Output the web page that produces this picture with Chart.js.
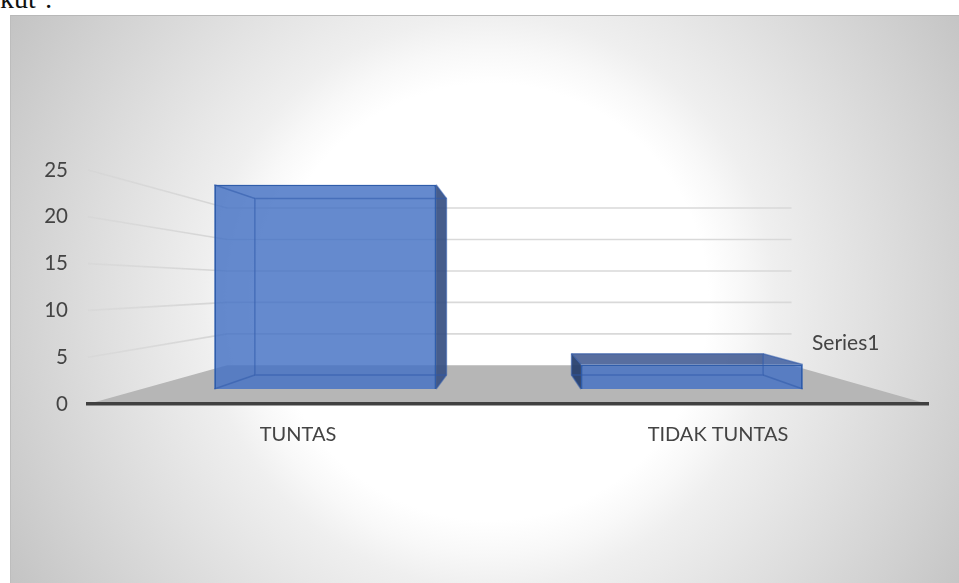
<!DOCTYPE html>
<html>
<head>
<meta charset="utf-8">
<title>Tuntas</title>
<script src="https://cdn.jsdelivr.net/npm/chart.js@4"></script>
<style>
  html, body { margin: 0; padding: 0; background: #fff; overflow: hidden; }
  #wrap { position: relative; width: 959px; height: 583px; overflow: hidden; }
  #doc { position: absolute; left: 0; top: -17px; font: 28px "Liberation Serif", serif; word-spacing: 2px; color: #111; }
  #panel {
    position: absolute; left: 10px; top: 15px; right: 0; bottom: 0;
    border-left: 1px solid #bdbdbd; border-top: 1px solid #b8b8b8;
    background: radial-gradient(circle 560px at 479px 286px, #fff 0%, #fff 39%, #f8f8f8 45%, #efefef 51%, #e0e0e0 68%, #d0d0d0 86%, #c3c3c3 100%);
  }
  canvas { position: absolute; left: 0; top: 0; }
</style>
</head>
<body>
<div id="wrap">
  <div id="doc">kut :</div>
  <div id="panel"></div>
  <canvas id="chart" width="959" height="583"></canvas>
</div>
<script>
// data
const categories = ["TUNTAS", "TIDAK TUNTAS"];
const seriesName = "Series1";
const values = [25, 3];
const yTicks = [0, 5, 10, 15, 20, 25];

// perspective of the fake 3D box, everything shrinks towards this point
const VP = { x: 512, y: 286 };
const FRONT = 0.873;
const BACK = 0.754;
const WALL = 0.672;

const FONT = "Lato, 'Open Sans', sans-serif";
const TEXT = "#444444";
const EDGE = "rgba(47,90,170,0.55)";

function proj(p, s) {
  return { x: VP.x + (p.x - VP.x) * s, y: VP.y + (p.y - VP.y) * s };
}

function poly(ctx, pts, fill, stroke, lw) {
  ctx.beginPath();
  pts.forEach((p, i) => i ? ctx.lineTo(p.x, p.y) : ctx.moveTo(p.x, p.y));
  ctx.closePath();
  if (fill) { ctx.fillStyle = fill; ctx.fill(); }
  if (stroke) { ctx.strokeStyle = stroke; ctx.lineWidth = lw; ctx.lineJoin = "round"; ctx.stroke(); }
}

function boxPoints(bar) {
  const x0 = bar.x - bar.width / 2, x1 = bar.x + bar.width / 2;
  const c = [
    { x: x0, y: bar.y }, { x: x1, y: bar.y },
    { x: x1, y: bar.base }, { x: x0, y: bar.base }
  ];
  return { f: c.map(p => proj(p, FRONT)), b: c.map(p => proj(p, BACK)) };
}

const box3d = {
  id: "box3d",
  beforeDatasetsDraw(chart) {
    const { ctx, chartArea: a, scales: { y } } = chart;
    ctx.save();

    // floor
    const bl = { x: a.left, y: a.bottom }, br = { x: a.right, y: a.bottom };
    poly(ctx, [bl, br, proj(br, WALL), proj(bl, WALL)], "#b6b6b6");

    // grid: side wall + back wall
    yTicks.slice(1).forEach(v => {
      const py = y.getPixelForValue(v);
      const l = { x: a.left, y: py }, r = { x: a.right, y: py };
      const lb = proj(l, WALL), rb = proj(r, WALL);
      const g = ctx.createLinearGradient(l.x, 0, lb.x, 0);
      g.addColorStop(0, "rgba(205,205,205,0.25)");
      g.addColorStop(1, "rgba(212,212,212,1)");
      ctx.lineWidth = 1.6;
      ctx.strokeStyle = g;
      ctx.beginPath(); ctx.moveTo(l.x, l.y); ctx.lineTo(lb.x, lb.y); ctx.stroke();
      ctx.strokeStyle = "#d9d9d9";
      ctx.beginPath(); ctx.moveTo(lb.x, lb.y); ctx.lineTo(rb.x, rb.y); ctx.stroke();
    });

    // box faces behind the front one. only faces turned to the viewer are dark
    chart.getDatasetMeta(0).data.forEach(bar => {
      const { f, b } = boxPoints(bar);
      const see = "rgba(68,114,196,0.3)";
      poly(ctx, b, see);
      poly(ctx, [f[3], f[2], b[2], b[3]], see);
      poly(ctx, [f[0], f[1], b[1], b[0]], f[0].y > VP.y ? "rgba(60,85,140,0.8)" : see);
      poly(ctx, [f[0], f[3], b[3], b[0]], f[0].x > VP.x ? "rgba(35,60,105,0.9)" : see);
      poly(ctx, [f[1], f[2], b[2], b[1]], f[1].x < VP.x ? "rgba(55,80,130,0.9)" : see);
    });

    // native bars get drawn as the front face
    ctx.translate(VP.x, VP.y);
    ctx.scale(FRONT, FRONT);
    ctx.translate(-VP.x, -VP.y);
  },
  afterDatasetsDraw(chart) {
    const { ctx } = chart;
    ctx.restore();

    // inner edges show through the front
    chart.getDatasetMeta(0).data.forEach(bar => {
      const { f, b } = boxPoints(bar);
      poly(ctx, b, null, EDGE, 1.5);
      f.forEach((p, i) => {
        ctx.beginPath(); ctx.moveTo(p.x, p.y); ctx.lineTo(b[i].x, b[i].y); ctx.stroke();
      });
    });

    // legend without key, sits right of the floor
    ctx.save();
    ctx.font = "21px " + FONT;
    ctx.fillStyle = TEXT;
    ctx.textBaseline = "middle";
    ctx.fillText(chart.data.datasets[0].label, 812, 343);
    ctx.restore();
  }
};

new Chart(document.getElementById("chart"), {
  type: "bar",
  data: {
    labels: categories,
    datasets: [{
      label: seriesName,
      data: values,
      backgroundColor: "rgba(68,114,196,0.75)",
      borderColor: "#2f5dab",
      borderWidth: 2,
      barPercentage: 0.605,
      categoryPercentage: 1,
      clip: false
    }]
  },
  options: {
    responsive: false,
    animation: false,
    layout: { padding: { top: 170, right: 31, left: 0, bottom: 0 } },
    plugins: { legend: { display: false }, tooltip: { enabled: false } },
    scales: {
      y: {
        min: 0,
        max: 25,
        afterFit: s => { s.width = 88; },
        afterBuildTicks: s => { s.ticks = yTicks.map(v => ({ value: v })); },
        grid: { display: false },
        border: { display: false },
        ticks: { color: TEXT, font: { family: FONT, size: 20.5 }, padding: 12 }
      },
      x: {
        afterFit: s => { s.height = 179; },
        grid: { drawOnChartArea: false, drawTicks: false, color: "#404040" },
        border: { display: true, color: "#404040", width: 3.5, z: 1 },
        ticks: { color: TEXT, font: { family: FONT, size: 20 }, padding: 19, maxRotation: 0 }
      }
    }
  },
  plugins: [box3d]
});
</script>
</body>
</html>
